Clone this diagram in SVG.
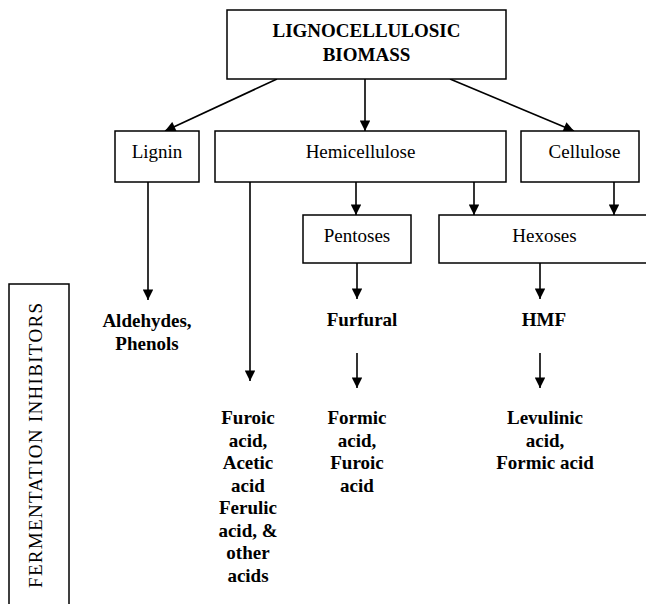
<svg xmlns="http://www.w3.org/2000/svg" width="646" height="604" viewBox="0 0 646 604">
  <defs>
    <marker id="arrow" viewBox="0 0 10 10" refX="10" refY="5" markerWidth="7.5" markerHeight="6.5" markerUnits="strokeWidth" orient="auto">
      <path d="M0,0 L10,5 L0,10 Z" fill="#000"/>
    </marker>
    <style>
      .box { fill: #fff; stroke: #000; stroke-width: 1.5; }
      .edge { fill: none; stroke: #000; stroke-width: 1.6; marker-end: url(#arrow); }
      text { font-family: 'Liberation Serif', 'Times New Roman', serif; font-size: 19px; fill: #000; text-anchor: middle; }
      .bold { font-weight: bold; }
    </style>
  </defs>
  <rect width="646" height="604" fill="#fff"/>

  <!-- side panel with vertical caption -->
  <g id="fermentation-inhibitors">
    <rect class="box" x="9" y="284" width="60" height="330"/>
    <text font-size="19.5" textLength="285" lengthAdjust="spacing" transform="translate(42,445.5) rotate(-90)">FERMENTATION INHIBITORS</text>
  </g>

  <!-- connectors -->
  <g id="connectors">
    <line class="edge" x1="277" y1="79" x2="165" y2="131"/>
    <line class="edge" x1="365" y1="79" x2="365" y2="131"/>
    <line class="edge" x1="450" y1="79" x2="574" y2="131"/>
    <line class="edge" x1="148" y1="182" x2="148" y2="300"/>
    <line class="edge" x1="250" y1="182" x2="250" y2="381"/>
    <line class="edge" x1="356" y1="182" x2="356" y2="215"/>
    <line class="edge" x1="474" y1="182" x2="474" y2="215"/>
    <line class="edge" x1="614" y1="182" x2="614" y2="215"/>
    <line class="edge" x1="357" y1="263" x2="357" y2="299"/>
    <line class="edge" x1="540" y1="263" x2="540" y2="299"/>
    <line class="edge" x1="357" y1="353" x2="357" y2="388"/>
    <line class="edge" x1="540" y1="353" x2="540" y2="388"/>
  </g>

  <g id="lignocellulosic-biomass">
    <rect class="box" x="227" y="10" width="279" height="69"/>
    <text class="bold" x="366.5" y="37">LIGNOCELLULOSIC</text>
    <text class="bold" x="366.5" y="61">BIOMASS</text>
  </g>

  <g id="lignin">
    <rect class="box" x="115" y="131" width="84" height="51"/>
    <text x="157" y="158">Lignin</text>
  </g>

  <g id="hemicellulose">
    <rect class="box" x="215" y="131" width="291" height="51"/>
    <text x="360.5" y="158">Hemicellulose</text>
  </g>

  <g id="cellulose">
    <rect class="box" x="521" y="131" width="118" height="51"/>
    <text x="584.5" y="158">Cellulose</text>
  </g>

  <g id="pentoses">
    <rect class="box" x="303" y="215" width="108" height="48"/>
    <text x="357" y="242">Pentoses</text>
  </g>

  <g id="hexoses">
    <rect class="box" x="439" y="215" width="220" height="48"/>
    <text x="544.5" y="242">Hexoses</text>
  </g>

  <g id="aldehydes-phenols">
    <text class="bold" x="147" y="327">Aldehydes,</text>
    <text class="bold" x="147" y="350">Phenols</text>
  </g>

  <g id="furfural">
    <text class="bold" x="362" y="326">Furfural</text>
  </g>

  <g id="hmf">
    <text class="bold" x="544" y="326">HMF</text>
  </g>

  <g id="hemicellulose-acids">
    <text class="bold" x="248" y="424">Furoic</text>
    <text class="bold" x="248" y="447">acid,</text>
    <text class="bold" x="248" y="469">Acetic</text>
    <text class="bold" x="248" y="492">acid</text>
    <text class="bold" x="248" y="514">Ferulic</text>
    <text class="bold" x="248" y="537">acid, &amp;</text>
    <text class="bold" x="248" y="559">other</text>
    <text class="bold" x="248" y="582">acids</text>
  </g>

  <g id="furfural-acids">
    <text class="bold" x="357" y="424">Formic</text>
    <text class="bold" x="357" y="447">acid,</text>
    <text class="bold" x="357" y="469">Furoic</text>
    <text class="bold" x="357" y="492">acid</text>
  </g>

  <g id="hmf-acids">
    <text class="bold" x="545" y="424">Levulinic</text>
    <text class="bold" x="545" y="447">acid,</text>
    <text class="bold" x="545" y="469">Formic acid</text>
  </g>
</svg>
